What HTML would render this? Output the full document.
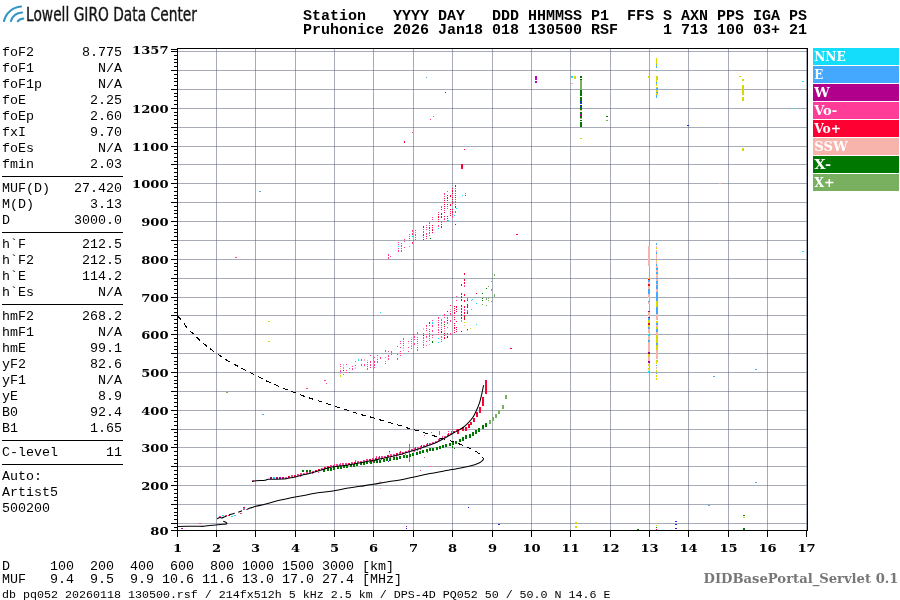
<!DOCTYPE html>
<html><head><meta charset="utf-8"><title>Ionogram</title>
<style>
html,body{margin:0;padding:0;background:#fff;width:900px;height:600px;overflow:hidden}
svg{display:block}
text{white-space:pre}
</style></head><body>
<svg width="900" height="600" viewBox="0 0 900 600" style="position:absolute;left:0;top:0">
<g shape-rendering="crispEdges">
<rect width="900" height="600" fill="#fff"/>
<g fill="#505870" fill-opacity="0.5"><rect x="216" y="49" width="1" height="481"/><rect x="255" y="49" width="1" height="481"/><rect x="295" y="49" width="1" height="481"/><rect x="334" y="49" width="1" height="481"/><rect x="373" y="49" width="1" height="481"/><rect x="413" y="49" width="1" height="481"/><rect x="452" y="49" width="1" height="481"/><rect x="492" y="49" width="1" height="481"/><rect x="531" y="49" width="1" height="481"/><rect x="570" y="49" width="1" height="481"/><rect x="610" y="49" width="1" height="481"/><rect x="649" y="49" width="1" height="481"/><rect x="688" y="49" width="1" height="481"/><rect x="728" y="49" width="1" height="481"/><rect x="767" y="49" width="1" height="481"/><rect x="806" y="49" width="1" height="481"/><rect x="178" y="523" width="629" height="1"/><rect x="178" y="504" width="629" height="1"/><rect x="178" y="485" width="629" height="1"/><rect x="178" y="466" width="629" height="1"/><rect x="178" y="447" width="629" height="1"/><rect x="178" y="429" width="629" height="1"/><rect x="178" y="410" width="629" height="1"/><rect x="178" y="391" width="629" height="1"/><rect x="178" y="372" width="629" height="1"/><rect x="178" y="353" width="629" height="1"/><rect x="178" y="334" width="629" height="1"/><rect x="178" y="315" width="629" height="1"/><rect x="178" y="297" width="629" height="1"/><rect x="178" y="278" width="629" height="1"/><rect x="178" y="259" width="629" height="1"/><rect x="178" y="240" width="629" height="1"/><rect x="178" y="221" width="629" height="1"/><rect x="178" y="202" width="629" height="1"/><rect x="178" y="183" width="629" height="1"/><rect x="178" y="164" width="629" height="1"/><rect x="178" y="146" width="629" height="1"/><rect x="178" y="127" width="629" height="1"/><rect x="178" y="108" width="629" height="1"/><rect x="178" y="89" width="629" height="1"/><rect x="178" y="70" width="629" height="1"/><rect x="178" y="51" width="629" height="1"/></g>
<g shape-rendering="auto"><path fill="#ff3d98" shape-rendering="crispEdges" d="M252 480h2v1h-2zM285 477h2v2h-2zM291 475h2v2h-2zM297 474h2v2h-2zM300 473h2v2h-2zM300 476h1v1h-1zM303 473h2v2h-2zM306 472h2v2h-2zM309 471h2v2h-2zM312 471h2v2h-2zM312 473h1v1h-1zM318 472h1v1h-1zM321 468h2v2h-2zM327 469h1v1h-1zM330 465h2v2h-2zM330 468h1v1h-1zM333 465h2v2h-2zM334 464h1v2h-1zM336 464h2v2h-2zM339 464h2v2h-2zM340 463h1v2h-1zM342 463h2v2h-2zM345 463h2v2h-2zM351 462h2v2h-2zM351 465h1v1h-1zM355 460h1v2h-1zM357 461h2v2h-2zM357 464h1v1h-1zM360 461h2v2h-2zM360 463h1v1h-1zM363 460h2v2h-2zM366 459h2v2h-2zM366 462h1v1h-1zM369 462h1v1h-1zM372 458h2v2h-2zM373 457h1v2h-1zM372 461h1v1h-1zM376 456h1v2h-1zM375 460h1v1h-1zM378 457h2v2h-2zM381 456h2v2h-2zM381 459h1v1h-1zM384 456h2v2h-2zM384 459h1v1h-1zM390 454h2v2h-2zM390 457h1v1h-1zM393 454h2v2h-2zM396 456h1v1h-1zM399 452h2v2h-2zM402 452h2v2h-2zM402 454h1v1h-1zM405 451h2v2h-2zM405 454h1v1h-1zM408 450h2v2h-2zM411 449h2v2h-2zM414 448h2v2h-2zM414 451h1v1h-1zM417 447h2v2h-2zM417 450h1v1h-1zM420 446h2v2h-2zM420 449h1v1h-1zM423 445h2v2h-2zM426 444h2v2h-2zM429 443h2v2h-2zM432 442h2v2h-2zM435 441h2v2h-2zM438 439h2v2h-2zM441 438h2v2h-2zM442 436h1v2h-1zM444 436h2v2h-2zM447 434h2v2h-2zM450 433h2v2h-2zM451 431h1v2h-1zM456 429h2v2h-2zM409 444h1v18h-1zM439 431h1v4h-1zM424 435h1v1h-1zM431 432h1v1h-1zM424 457h1v1h-1zM430 466h1v1h-1zM448 431h1v1h-1zM219 516h2v1h-2zM222 517h2v1h-2zM225 515h2v1h-2zM240 513h2v1h-2zM243 509h2v1h-2zM199 523h2v1h-2zM340 364h1v1h-1zM340 366h1v1h-1zM340 370h1v2h-1zM343 374h1v1h-1zM346 364h1v1h-1zM346 370h1v1h-1zM346 372h1v1h-1zM349 368h1v1h-1zM349 372h1v1h-1zM352 366h1v1h-1zM352 368h1v2h-1zM355 361h1v1h-1zM355 365h1v1h-1zM361 359h1v2h-1zM361 364h1v2h-1zM364 364h1v2h-1zM367 362h1v1h-1zM367 364h1v1h-1zM367 366h1v1h-1zM367 368h1v2h-1zM370 355h1v1h-1zM370 361h1v2h-1zM370 364h1v2h-1zM370 367h1v1h-1zM373 356h1v1h-1zM373 358h1v1h-1zM373 360h1v1h-1zM373 366h1v1h-1zM373 368h1v1h-1zM374 357h1v1h-1zM374 361h1v2h-1zM374 364h1v2h-1zM374 367h1v1h-1zM377 355h1v1h-1zM377 359h1v1h-1zM377 361h1v2h-1zM380 357h1v2h-1zM385 350h1v2h-1zM385 363h1v1h-1zM388 351h1v1h-1zM388 355h1v2h-1zM388 358h1v2h-1zM391 351h1v2h-1zM391 354h1v1h-1zM397 346h1v1h-1zM397 354h1v1h-1zM397 358h1v2h-1zM400 341h1v1h-1zM400 343h1v1h-1zM400 347h1v1h-1zM400 351h1v1h-1zM400 353h1v1h-1zM400 355h1v1h-1zM403 338h1v2h-1zM403 341h1v1h-1zM403 343h1v1h-1zM403 345h1v1h-1zM408 341h1v1h-1zM408 347h1v1h-1zM408 351h1v1h-1zM411 339h1v1h-1zM411 341h1v1h-1zM411 348h1v1h-1zM414 334h1v1h-1zM414 336h1v2h-1zM414 339h1v1h-1zM414 343h1v2h-1zM417 332h1v2h-1zM417 337h1v1h-1zM417 339h1v1h-1zM417 341h1v1h-1zM417 343h1v1h-1zM417 347h1v1h-1zM417 349h1v2h-1zM423 333h1v1h-1zM423 337h1v2h-1zM423 340h1v1h-1zM423 342h1v1h-1zM423 344h1v2h-1zM423 347h1v1h-1zM426 325h1v2h-1zM426 328h1v1h-1zM426 330h1v1h-1zM426 334h1v1h-1zM426 336h1v2h-1zM426 341h1v1h-1zM426 345h1v1h-1zM429 325h1v1h-1zM429 329h1v1h-1zM429 331h1v1h-1zM429 333h1v1h-1zM429 335h1v2h-1zM429 338h1v1h-1zM429 340h1v1h-1zM432 320h1v1h-1zM432 325h1v2h-1zM432 330h1v2h-1zM432 335h1v1h-1zM432 337h1v1h-1zM438 317h1v2h-1zM438 320h1v1h-1zM438 322h1v1h-1zM438 324h1v2h-1zM438 327h1v1h-1zM438 329h1v2h-1zM438 332h1v1h-1zM438 334h1v1h-1zM441 319h1v2h-1zM441 322h1v2h-1zM441 325h1v1h-1zM441 327h1v1h-1zM441 334h1v1h-1zM441 336h1v2h-1zM441 339h1v1h-1zM441 341h1v1h-1zM444 314h1v2h-1zM444 317h1v1h-1zM444 321h1v2h-1zM444 328h1v1h-1zM447 315h1v1h-1zM447 317h1v2h-1zM447 322h1v2h-1zM447 327h1v1h-1zM447 333h1v2h-1zM450 311h1v1h-1zM450 313h1v2h-1zM450 320h1v2h-1zM450 333h1v2h-1zM454 315h1v1h-1zM454 330h1v1h-1zM456 296h1v1h-1zM456 300h1v1h-1zM388 254h1v2h-1zM388 257h1v2h-1zM398 242h1v1h-1zM398 244h1v1h-1zM398 248h1v1h-1zM398 250h1v2h-1zM401 243h1v1h-1zM401 245h1v2h-1zM401 248h1v1h-1zM401 250h1v2h-1zM404 239h1v1h-1zM404 241h1v1h-1zM404 247h1v1h-1zM409 234h1v1h-1zM409 236h1v1h-1zM409 238h1v1h-1zM409 240h1v1h-1zM412 230h1v2h-1zM412 233h1v2h-1zM412 242h1v2h-1zM415 230h1v1h-1zM415 234h1v2h-1zM415 237h1v1h-1zM415 239h1v1h-1zM423 229h1v1h-1zM423 231h1v2h-1zM423 237h1v1h-1zM426 225h1v1h-1zM426 227h1v1h-1zM426 229h1v1h-1zM426 233h1v2h-1zM426 238h1v1h-1zM429 222h1v2h-1zM429 225h1v1h-1zM429 230h1v1h-1zM429 232h1v2h-1zM429 235h1v1h-1zM432 217h1v1h-1zM432 219h1v1h-1zM438 212h1v1h-1zM438 225h1v2h-1zM438 228h1v1h-1zM441 206h1v2h-1zM441 221h1v2h-1zM444 193h1v2h-1zM444 196h1v1h-1zM444 210h1v1h-1zM444 218h1v2h-1zM444 221h1v1h-1zM447 191h1v1h-1zM447 206h1v1h-1zM447 208h1v1h-1zM447 220h1v1h-1zM450 211h1v1h-1zM452 195h1v1h-1zM452 216h1v2h-1zM455 188h1v1h-1zM455 190h1v2h-1zM455 193h1v1h-1zM455 199h1v1h-1zM455 201h1v2h-1zM455 204h1v1h-1zM455 211h1v2h-1zM464 285h1v2h-1zM464 309h1v2h-1zM467 298h1v2h-1zM467 310h1v2h-1zM433 116h1v1h-1zM430 119h1v1h-1zM412 132h1v1h-1zM235 257h2v1h-2zM306 388h2v1h-2zM324 380h2v1h-2zM326 383h1v1h-1zM390 256h1v1h-1zM420 470h1v1h-1zM427 452h1v1h-1z"/>
<path fill="#b0008c" shape-rendering="crispEdges" d="M270 477h2v2h-2zM276 477h2v2h-2zM279 477h2v2h-2zM282 477h2v2h-2zM467 300h1v1h-1zM580 114h2v2h-2zM656 84h1v1h-1zM648 311h2v2h-2zM648 317h2v1h-2zM648 352h2v2h-2zM648 361h2v2h-2z"/>
<path fill="#13ddfb" shape-rendering="crispEdges" d="M273 477h2v2h-2zM485 388h2v1h-2zM485 393h2v1h-2zM482 405h2v1h-2zM468 426h2v1h-2zM222 515h2v1h-2zM231 516h2v1h-2zM234 515h2v1h-2zM343 367h1v2h-1zM358 359h1v2h-1zM385 357h1v1h-1zM385 361h1v1h-1zM411 343h1v1h-1zM411 345h1v2h-1zM432 322h1v2h-1zM438 338h1v1h-1zM438 342h1v1h-1zM398 246h1v1h-1zM409 246h1v1h-1zM412 236h1v1h-1zM415 232h1v1h-1zM438 228h1v1h-1zM448 220h1v1h-1zM454 215h1v1h-1zM456 208h1v1h-1zM462 195h1v1h-1zM465 193h1v1h-1zM471 300h1v1h-1zM472 299h1v1h-1zM476 303h1v1h-1zM471 309h1v1h-1zM476 324h1v1h-1zM461 320h1v1h-1zM461 321h1v1h-1zM648 334h2v2h-2zM648 371h2v2h-2zM571 76h2v2h-2zM802 81h2v1h-2zM793 108h2v1h-2zM802 251h2v1h-2zM380 312h1v1h-1z"/>
<path fill="#ff0033" shape-rendering="crispEdges" d="M288 476h2v2h-2zM294 475h2v2h-2zM315 470h2v2h-2zM318 469h2v2h-2zM324 467h2v2h-2zM327 466h2v2h-2zM348 463h2v2h-2zM354 462h2v2h-2zM369 459h2v2h-2zM375 458h2v2h-2zM379 456h1v2h-1zM387 455h2v2h-2zM396 453h2v2h-2zM400 451h1v2h-1zM415 447h1v2h-1zM421 445h1v2h-1zM427 443h1v2h-1zM439 438h1v2h-1zM448 433h1v2h-1zM453 431h2v2h-2zM485 380h2v14h-2zM482 397h2v9h-2zM479 407h2v6h-2zM476 412h2v5h-2zM473 418h2v4h-2zM470 422h2v3h-2zM468 424h2v4h-2zM465 427h2v4h-2zM462 427h2v4h-2zM457 429h2v5h-2zM228 515h2v1h-2zM243 507h2v1h-2zM441 329h1v1h-1zM444 326h1v1h-1zM444 333h1v1h-1zM444 335h1v1h-1zM444 337h1v2h-1zM450 305h1v1h-1zM454 306h1v1h-1zM454 308h1v1h-1zM454 310h1v1h-1zM454 312h1v2h-1zM454 317h1v1h-1zM454 319h1v1h-1zM454 323h1v1h-1zM454 325h1v1h-1zM454 327h1v2h-1zM454 332h1v1h-1zM456 306h1v2h-1zM456 309h1v1h-1zM456 311h1v1h-1zM456 321h1v1h-1zM456 327h1v1h-1zM456 329h1v1h-1zM456 331h1v1h-1zM423 226h1v2h-1zM423 234h1v2h-1zM423 239h1v1h-1zM426 236h1v1h-1zM429 227h1v2h-1zM432 225h1v1h-1zM432 227h1v1h-1zM432 229h1v2h-1zM432 232h1v1h-1zM438 214h1v1h-1zM438 216h1v2h-1zM438 219h1v1h-1zM438 221h1v1h-1zM441 209h1v1h-1zM441 213h1v2h-1zM441 216h1v2h-1zM441 224h1v1h-1zM441 226h1v2h-1zM444 198h1v1h-1zM444 200h1v1h-1zM444 202h1v1h-1zM444 204h1v1h-1zM444 206h1v1h-1zM444 208h1v1h-1zM444 212h1v1h-1zM444 216h1v1h-1zM447 195h1v1h-1zM447 197h1v2h-1zM447 200h1v1h-1zM447 204h1v1h-1zM447 216h1v1h-1zM447 218h1v1h-1zM450 195h1v2h-1zM450 204h1v2h-1zM450 209h1v1h-1zM450 213h1v1h-1zM450 215h1v1h-1zM452 188h1v1h-1zM452 190h1v2h-1zM452 193h1v1h-1zM452 197h1v1h-1zM452 199h1v1h-1zM452 201h1v1h-1zM452 203h1v1h-1zM452 209h1v1h-1zM452 211h1v2h-1zM452 214h1v1h-1zM455 185h1v2h-1zM455 195h1v1h-1zM455 197h1v1h-1zM455 206h1v2h-1zM461 164h2v5h-2zM465 195h1v1h-1zM461 284h1v2h-1zM461 293h1v2h-1zM461 296h1v2h-1zM461 299h1v2h-1zM461 305h1v2h-1zM461 308h1v2h-1zM461 311h1v2h-1zM461 314h1v2h-1zM461 317h1v2h-1zM464 273h1v2h-1zM464 279h1v2h-1zM464 282h1v2h-1zM464 294h1v2h-1zM464 300h1v2h-1zM464 306h1v2h-1zM464 312h1v2h-1zM464 315h1v2h-1zM464 318h1v2h-1zM467 304h1v2h-1zM467 306h1v2h-1zM467 312h1v2h-1zM476 293h1v1h-1zM648 279h2v1h-2zM648 284h2v2h-2zM648 323h2v2h-2zM445 92h1v1h-1zM404 141h1v2h-1zM464 149h1v1h-1zM516 234h2v1h-2zM510 348h2v1h-2zM656 529h1v1h-1z"/>
<path fill="#d8d800" shape-rendering="crispEdges" d="M389 452h1v2h-1zM340 375h1v2h-1zM367 360h1v1h-1zM417 345h1v1h-1zM429 344h1v1h-1zM464 322h1v1h-1zM467 330h1v1h-1zM470 328h1v1h-1zM656 58h1v6h-1zM656 65h1v2h-1zM656 76h2v4h-2zM656 80h1v2h-1zM656 84h1v2h-1zM656 87h2v1h-2zM656 90h2v2h-2zM656 93h2v2h-2zM656 248h1v1h-1zM656 260h1v1h-1zM656 301h2v6h-2zM656 321h2v2h-2zM656 327h2v2h-2zM656 335h2v8h-2zM656 344h2v6h-2zM656 360h2v2h-2zM656 362h1v2h-1zM656 370h1v2h-1zM656 375h1v2h-1zM656 378h1v2h-1zM648 278h2v1h-2zM648 320h2v3h-2zM648 325h2v2h-2zM648 354h2v3h-2zM648 364h2v2h-2zM648 368h2v2h-2zM742 79h2v2h-2zM742 85h2v10h-2zM742 97h2v4h-2zM742 148h2v3h-2zM574 76h2v3h-2zM580 138h2v1h-2zM648 76h2v2h-2zM739 76h2v1h-2zM268 321h2v1h-2zM268 341h2v1h-2zM575 522h2v2h-2zM575 526h2v2h-2zM656 525h1v1h-1zM743 517h2v1h-2z"/>
<path fill="#2020ff" shape-rendering="crispEdges" d="M389 451h1v1h-1zM388 461h1v1h-1zM423 335h1v1h-1zM447 320h1v1h-1zM447 336h1v2h-1zM580 101h2v1h-2zM580 103h2v1h-2zM580 106h2v1h-2zM687 125h2v1h-2zM498 524h2v1h-2zM675 521h2v1h-2zM675 524h2v1h-2zM675 528h2v1h-2zM406 528h1v1h-1zM468 507h1v1h-1z"/>
<path fill="#007700" shape-rendering="crispEdges" d="M323 469h2v3h-2zM327 468h2v3h-2zM330 468h2v3h-2zM333 467h2v3h-2zM337 466h2v3h-2zM340 466h2v3h-2zM343 465h2v3h-2zM346 465h2v3h-2zM350 464h2v3h-2zM353 464h2v3h-2zM356 463h2v3h-2zM360 462h2v3h-2zM363 462h2v3h-2zM366 461h2v3h-2zM370 461h2v3h-2zM373 460h2v3h-2zM376 460h2v3h-2zM379 460h2v3h-2zM383 459h2v3h-2zM386 458h2v3h-2zM389 458h2v3h-2zM393 457h2v3h-2zM396 457h2v3h-2zM399 456h2v3h-2zM403 455h2v3h-2zM406 455h2v3h-2zM409 454h2v3h-2zM412 453h2v3h-2zM416 452h2v3h-2zM419 451h2v3h-2zM422 450h2v3h-2zM426 449h2v3h-2zM429 448h2v3h-2zM432 448h2v3h-2zM436 447h2v3h-2zM439 446h2v3h-2zM442 445h2v3h-2zM445 444h2v3h-2zM449 443h2v3h-2zM452 442h2v3h-2zM455 441h2v3h-2zM459 439h2v3h-2zM462 437h2v4h-2zM465 435h2v4h-2zM469 434h2v4h-2zM472 432h2v4h-2zM475 430h2v4h-2zM478 428h2v4h-2zM482 425h2v4h-2zM485 423h2v4h-2zM302 470h2v2h-2zM306 470h2v2h-2zM309 470h2v2h-2zM452 446h1v2h-1zM454 448h1v1h-1zM343 370h1v1h-1zM429 322h1v2h-1zM432 341h1v2h-1zM441 331h1v2h-1zM444 324h1v1h-1zM447 311h1v1h-1zM430 238h1v1h-1zM455 224h1v1h-1zM464 317h1v1h-1zM467 329h1v1h-1zM461 331h1v1h-1zM486 288h1v1h-1zM482 293h1v1h-1zM482 300h1v1h-1zM482 298h1v1h-1zM580 76h2v2h-2zM580 79h2v1h-2zM580 90h2v6h-2zM580 97h2v2h-2zM580 99h2v2h-2zM580 102h2v1h-2zM580 105h2v1h-2zM580 107h2v3h-2zM580 112h2v2h-2zM580 116h2v2h-2zM580 120h2v1h-2zM580 122h2v5h-2zM606 116h2v1h-2zM637 529h2v1h-2zM656 527h1v1h-1zM743 515h2v1h-2zM743 528h2v2h-2z"/>
<path fill="#78b060" shape-rendering="crispEdges" d="M489 420h2v4h-2zM492 417h2v4h-2zM495 414h2v4h-2zM498 410h2v4h-2zM502 405h2v4h-2zM505 395h2v4h-2zM494 274h1v2h-1zM491 278h1v1h-1zM494 278h1v1h-1zM491 281h1v1h-1zM488 286h1v1h-1zM491 289h1v2h-1zM494 294h1v2h-1zM486 298h1v2h-1zM488 300h1v1h-1zM491 301h1v1h-1zM482 304h1v1h-1zM486 305h1v1h-1zM488 298h1v1h-1zM494 296h1v1h-1zM580 80h2v10h-2zM580 118h2v1h-2zM606 120h2v1h-2zM226 392h2v1h-2z"/>
<path fill="#44a8ff" shape-rendering="crispEdges" d="M243 508h2v1h-2zM656 64h1v1h-1zM656 66h1v2h-1zM656 82h1v2h-1zM656 88h2v2h-2zM656 92h2v1h-2zM656 95h1v3h-1zM656 243h1v2h-1zM656 252h1v2h-1zM656 264h1v2h-1zM656 268h2v2h-2zM656 272h2v2h-2zM656 277h2v2h-2zM656 280h2v4h-2zM656 285h2v4h-2zM656 292h2v3h-2zM656 295h2v6h-2zM656 307h2v8h-2zM656 323h2v2h-2zM656 329h2v3h-2zM656 343h2v2h-2zM656 365h1v1h-1zM656 373h1v1h-1zM648 280h2v2h-2zM648 289h2v5h-2zM648 301h2v2h-2zM648 318h2v2h-2zM648 327h2v2h-2zM648 340h2v2h-2zM426 77h1v1h-1zM259 191h2v1h-2zM262 414h2v1h-2zM261 378h2v1h-2zM713 376h2v1h-2zM755 369h2v1h-2zM708 505h2v1h-2zM755 482h2v1h-2z"/>
<path fill="#c000c0" shape-rendering="crispEdges" d="M181 528h2v1h-2zM535 76h2v2h-2zM535 78h2v2h-2zM535 81h2v2h-2zM406 526h1v1h-1z"/>
<path fill="#f7b4ac" shape-rendering="crispEdges" d="M340 368h1v1h-1zM340 373h1v1h-1zM343 364h1v2h-1zM355 367h1v2h-1zM364 359h1v2h-1zM377 357h1v1h-1zM403 347h1v2h-1zM403 350h1v1h-1zM408 343h1v1h-1zM411 337h1v1h-1zM423 328h1v2h-1zM441 315h1v1h-1zM444 330h1v2h-1zM450 309h1v1h-1zM464 325h1v1h-1zM580 110h2v1h-2zM656 246h1v2h-1zM656 250h1v2h-1zM656 254h1v5h-1zM656 261h1v3h-1zM656 266h2v2h-2zM656 270h2v2h-2zM656 274h2v4h-2zM656 279h2v2h-2zM656 284h2v1h-2zM656 289h2v3h-2zM656 314h2v6h-2zM656 325h2v2h-2zM656 332h2v3h-2zM656 350h2v9h-2zM656 367h1v2h-1zM648 246h2v20h-2zM648 282h2v2h-2zM648 286h2v3h-2zM648 294h2v4h-2zM648 302h2v2h-2zM648 312h2v4h-2zM648 329h2v4h-2zM648 336h2v4h-2zM648 342h2v2h-2zM648 344h2v8h-2zM648 357h2v4h-2zM571 83h2v1h-2zM719 183h2v1h-2zM380 481h1v1h-1zM380 488h1v1h-1z"/>
<g fill="none" stroke="#000" stroke-width="1.05" stroke-linejoin="round" stroke-linecap="butt">
<path d="M178.00,526.40 C181.00,526.38 191.67,526.32 196.00,526.30 C200.33,526.28 201.78,526.45 204.00,526.30 C206.22,526.15 207.30,525.62 209.30,525.40 C211.30,525.18 213.77,525.18 216.00,525.00 C218.23,524.82 220.98,524.47 222.70,524.30 C224.42,524.13 225.62,524.17 226.30,524.00 C226.98,523.83 226.97,523.63 226.80,523.30 C226.63,522.97 225.88,522.33 225.30,522.00 C224.72,521.67 223.63,521.42 223.30,521.30"/>
<path d="M217.00,518.70 C217.50,518.50 219.17,517.62 220.00,517.50 C220.83,517.38 221.33,518.08 222.00,518.00 C222.67,517.92 223.22,517.33 224.00,517.00 C224.78,516.67 226.25,516.17 226.70,516.00"/>
<path d="M229.00,514.70 C229.72,514.53 232.38,513.98 233.30,513.70 C234.22,513.42 234.30,513.12 234.50,513.00"/>
<path d="M238.30,512.30 L242.00,510.70"/>
<path d="M246.50,509.60 C246.97,509.38 248.27,508.68 249.30,508.30 C250.33,507.92 251.58,507.63 252.70,507.30 C253.82,506.97 253.67,506.88 256.00,506.30 C258.33,505.72 263.43,504.65 266.70,503.80 C269.97,502.95 272.65,501.95 275.60,501.20 C278.55,500.45 281.15,499.98 284.40,499.30 C287.65,498.62 291.38,497.83 295.10,497.10 C298.82,496.37 302.55,495.65 306.70,494.90 C310.85,494.15 315.42,493.30 320.00,492.60 C324.58,491.90 329.75,491.42 334.20,490.70 C338.65,489.98 342.40,489.03 346.70,488.30 C351.00,487.57 355.57,486.97 360.00,486.30 C364.43,485.63 368.85,485.03 373.30,484.30 C377.75,483.57 382.25,482.62 386.70,481.90 C391.15,481.18 395.62,480.77 400.00,480.00 C404.38,479.23 408.00,478.37 413.00,477.30 C418.00,476.23 423.50,474.90 430.00,473.60 C436.50,472.30 445.33,470.77 452.00,469.50 C458.67,468.23 465.50,467.08 470.00,466.00 C474.50,464.92 476.90,463.95 479.00,463.00 C481.10,462.05 481.85,460.97 482.60,460.30 C483.35,459.63 483.35,459.22 483.50,459.00"/>
<path d="M252.00,481.60 C252.67,481.47 253.83,481.02 256.00,480.80 C258.17,480.58 262.93,480.55 265.00,480.30 C267.07,480.05 265.40,479.50 268.40,479.30 C271.40,479.10 279.85,479.25 283.00,479.10 C286.15,478.95 285.25,478.75 287.30,478.40 C289.35,478.05 292.63,477.60 295.30,477.00 C297.97,476.40 300.48,475.50 303.30,474.80 C306.12,474.10 309.23,473.58 312.20,472.80 C315.17,472.02 318.13,471.00 321.10,470.10 C324.07,469.20 325.55,468.27 330.00,467.40 C334.45,466.53 341.87,465.83 347.80,464.90 C353.73,463.97 359.68,462.92 365.60,461.80 C371.52,460.68 377.38,459.47 383.30,458.20 C389.22,456.93 396.37,455.38 401.10,454.20 C405.83,453.02 408.08,452.22 411.70,451.10 C415.32,449.98 419.10,448.75 422.80,447.50 C426.50,446.25 430.57,445.00 433.90,443.60 C437.23,442.20 439.62,440.83 442.80,439.10 C445.98,437.37 449.82,435.00 453.00,433.20 C456.18,431.40 459.53,429.85 461.90,428.30 C464.27,426.75 465.42,425.67 467.20,423.90 C468.98,422.13 471.17,419.72 472.60,417.70 C474.03,415.68 474.65,414.28 475.80,411.80 C476.95,409.32 478.50,405.80 479.50,402.80 C480.50,399.80 481.12,396.75 481.80,393.80 C482.48,390.85 483.30,386.55 483.60,385.10"/>
<path d="M178.00,316.30 C178.78,317.22 181.15,319.83 182.70,321.80 C184.25,323.77 185.47,326.02 187.30,328.10 C189.13,330.18 191.67,332.33 193.70,334.30 C195.73,336.27 197.48,338.07 199.50,339.90 C201.52,341.73 203.68,343.57 205.80,345.30 C207.92,347.03 209.95,348.65 212.20,350.30 C214.45,351.95 217.08,353.67 219.30,355.20 C221.52,356.73 222.88,357.92 225.50,359.50 C228.12,361.08 232.08,363.12 235.00,364.70 C237.92,366.28 240.33,367.62 243.00,369.00 C245.67,370.38 248.12,371.55 251.00,373.00 C253.88,374.45 257.80,376.42 260.30,377.70 C262.80,378.98 263.72,379.62 266.00,380.70 C268.28,381.78 271.33,383.02 274.00,384.20 C276.67,385.38 279.12,386.62 282.00,387.80 C284.88,388.98 288.42,390.20 291.30,391.30 C294.18,392.40 296.63,393.40 299.30,394.40 C301.97,395.40 304.40,396.32 307.30,397.30 C310.20,398.28 313.58,399.30 316.70,400.30 C319.82,401.30 322.90,402.28 326.00,403.30 C329.10,404.32 332.42,405.45 335.30,406.40 C338.18,407.35 340.40,408.10 343.30,409.00 C346.20,409.90 349.65,410.83 352.70,411.80 C355.75,412.77 358.62,413.93 361.60,414.80 C364.58,415.67 367.57,416.17 370.60,417.00 C373.63,417.83 376.77,418.92 379.80,419.80 C382.83,420.68 385.72,421.43 388.80,422.30 C391.88,423.17 395.18,424.05 398.30,425.00 C401.42,425.95 404.50,427.12 407.50,428.00 C410.50,428.88 413.38,429.47 416.30,430.30 C419.22,431.13 422.00,432.07 425.00,433.00 C428.00,433.93 431.42,434.97 434.30,435.90 C437.18,436.83 439.18,437.63 442.30,438.60 C445.42,439.57 449.72,440.63 453.00,441.70 C456.28,442.77 459.17,443.87 462.00,445.00 C464.83,446.13 467.67,447.42 470.00,448.50 C472.33,449.58 474.33,450.50 476.00,451.50 C477.67,452.50 478.95,453.62 480.00,454.50 C481.05,455.38 481.72,456.05 482.30,456.80 C482.88,457.55 483.30,458.63 483.50,459.00" stroke-dasharray="5 4.2" shape-rendering="crispEdges"/>
</g></g>
<g fill="#000"><rect x="177" y="48" width="631" height="1"/><rect x="177" y="530" width="631" height="1"/><rect x="177" y="48" width="1" height="489"/><rect x="807" y="48" width="1" height="483"/><rect x="174" y="527" width="3" height="1"/><rect x="171" y="523" width="6" height="1"/><rect x="174" y="519" width="3" height="1"/><rect x="174" y="515" width="3" height="1"/><rect x="174" y="512" width="3" height="1"/><rect x="174" y="508" width="3" height="1"/><rect x="171" y="504" width="6" height="1"/><rect x="174" y="500" width="3" height="1"/><rect x="174" y="497" width="3" height="1"/><rect x="174" y="493" width="3" height="1"/><rect x="174" y="489" width="3" height="1"/><rect x="171" y="485" width="6" height="1"/><rect x="174" y="481" width="3" height="1"/><rect x="174" y="478" width="3" height="1"/><rect x="174" y="474" width="3" height="1"/><rect x="174" y="470" width="3" height="1"/><rect x="171" y="466" width="6" height="1"/><rect x="174" y="463" width="3" height="1"/><rect x="174" y="459" width="3" height="1"/><rect x="174" y="455" width="3" height="1"/><rect x="174" y="451" width="3" height="1"/><rect x="171" y="447" width="6" height="1"/><rect x="174" y="444" width="3" height="1"/><rect x="174" y="440" width="3" height="1"/><rect x="174" y="436" width="3" height="1"/><rect x="174" y="432" width="3" height="1"/><rect x="171" y="429" width="6" height="1"/><rect x="174" y="425" width="3" height="1"/><rect x="174" y="421" width="3" height="1"/><rect x="174" y="417" width="3" height="1"/><rect x="174" y="414" width="3" height="1"/><rect x="171" y="410" width="6" height="1"/><rect x="174" y="406" width="3" height="1"/><rect x="174" y="402" width="3" height="1"/><rect x="174" y="398" width="3" height="1"/><rect x="174" y="395" width="3" height="1"/><rect x="171" y="391" width="6" height="1"/><rect x="174" y="387" width="3" height="1"/><rect x="174" y="383" width="3" height="1"/><rect x="174" y="380" width="3" height="1"/><rect x="174" y="376" width="3" height="1"/><rect x="171" y="372" width="6" height="1"/><rect x="174" y="368" width="3" height="1"/><rect x="174" y="364" width="3" height="1"/><rect x="174" y="361" width="3" height="1"/><rect x="174" y="357" width="3" height="1"/><rect x="171" y="353" width="6" height="1"/><rect x="174" y="349" width="3" height="1"/><rect x="174" y="346" width="3" height="1"/><rect x="174" y="342" width="3" height="1"/><rect x="174" y="338" width="3" height="1"/><rect x="171" y="334" width="6" height="1"/><rect x="174" y="330" width="3" height="1"/><rect x="174" y="327" width="3" height="1"/><rect x="174" y="323" width="3" height="1"/><rect x="174" y="319" width="3" height="1"/><rect x="171" y="315" width="6" height="1"/><rect x="174" y="312" width="3" height="1"/><rect x="174" y="308" width="3" height="1"/><rect x="174" y="304" width="3" height="1"/><rect x="174" y="300" width="3" height="1"/><rect x="171" y="297" width="6" height="1"/><rect x="174" y="293" width="3" height="1"/><rect x="174" y="289" width="3" height="1"/><rect x="174" y="285" width="3" height="1"/><rect x="174" y="281" width="3" height="1"/><rect x="171" y="278" width="6" height="1"/><rect x="174" y="274" width="3" height="1"/><rect x="174" y="270" width="3" height="1"/><rect x="174" y="266" width="3" height="1"/><rect x="174" y="263" width="3" height="1"/><rect x="171" y="259" width="6" height="1"/><rect x="174" y="255" width="3" height="1"/><rect x="174" y="251" width="3" height="1"/><rect x="174" y="247" width="3" height="1"/><rect x="174" y="244" width="3" height="1"/><rect x="171" y="240" width="6" height="1"/><rect x="174" y="236" width="3" height="1"/><rect x="174" y="232" width="3" height="1"/><rect x="174" y="229" width="3" height="1"/><rect x="174" y="225" width="3" height="1"/><rect x="171" y="221" width="6" height="1"/><rect x="174" y="217" width="3" height="1"/><rect x="174" y="213" width="3" height="1"/><rect x="174" y="210" width="3" height="1"/><rect x="174" y="206" width="3" height="1"/><rect x="171" y="202" width="6" height="1"/><rect x="174" y="198" width="3" height="1"/><rect x="174" y="195" width="3" height="1"/><rect x="174" y="191" width="3" height="1"/><rect x="174" y="187" width="3" height="1"/><rect x="171" y="183" width="6" height="1"/><rect x="174" y="179" width="3" height="1"/><rect x="174" y="176" width="3" height="1"/><rect x="174" y="172" width="3" height="1"/><rect x="174" y="168" width="3" height="1"/><rect x="171" y="164" width="6" height="1"/><rect x="174" y="161" width="3" height="1"/><rect x="174" y="157" width="3" height="1"/><rect x="174" y="153" width="3" height="1"/><rect x="174" y="149" width="3" height="1"/><rect x="171" y="146" width="6" height="1"/><rect x="174" y="142" width="3" height="1"/><rect x="174" y="138" width="3" height="1"/><rect x="174" y="134" width="3" height="1"/><rect x="174" y="130" width="3" height="1"/><rect x="171" y="127" width="6" height="1"/><rect x="174" y="123" width="3" height="1"/><rect x="174" y="119" width="3" height="1"/><rect x="174" y="115" width="3" height="1"/><rect x="174" y="112" width="3" height="1"/><rect x="171" y="108" width="6" height="1"/><rect x="174" y="104" width="3" height="1"/><rect x="174" y="100" width="3" height="1"/><rect x="174" y="96" width="3" height="1"/><rect x="174" y="93" width="3" height="1"/><rect x="171" y="89" width="6" height="1"/><rect x="174" y="85" width="3" height="1"/><rect x="174" y="81" width="3" height="1"/><rect x="174" y="78" width="3" height="1"/><rect x="174" y="74" width="3" height="1"/><rect x="171" y="70" width="6" height="1"/><rect x="174" y="66" width="3" height="1"/><rect x="174" y="62" width="3" height="1"/><rect x="174" y="59" width="3" height="1"/><rect x="174" y="55" width="3" height="1"/><rect x="171" y="51" width="6" height="1"/><rect x="171" y="49" width="6" height="1"/><rect x="171" y="530" width="6" height="1"/><rect x="216" y="531" width="1" height="6"/><rect x="255" y="531" width="1" height="6"/><rect x="295" y="531" width="1" height="6"/><rect x="334" y="531" width="1" height="6"/><rect x="373" y="531" width="1" height="6"/><rect x="413" y="531" width="1" height="6"/><rect x="452" y="531" width="1" height="6"/><rect x="492" y="531" width="1" height="6"/><rect x="531" y="531" width="1" height="6"/><rect x="570" y="531" width="1" height="6"/><rect x="610" y="531" width="1" height="6"/><rect x="649" y="531" width="1" height="6"/><rect x="688" y="531" width="1" height="6"/><rect x="728" y="531" width="1" height="6"/><rect x="767" y="531" width="1" height="6"/><rect x="806" y="531" width="1" height="6"/></g>
<g font-family="DejaVu Serif, serif" font-weight="bold" font-size="11.8" fill="#000" shape-rendering="auto"><text x="168.5" y="53.7" text-anchor="end" textLength="36.40" lengthAdjust="spacingAndGlyphs">1357</text><text x="168.5" y="113.0" text-anchor="end" textLength="36.40" lengthAdjust="spacingAndGlyphs">1200</text><text x="168.5" y="151.0" text-anchor="end" textLength="36.40" lengthAdjust="spacingAndGlyphs">1100</text><text x="168.5" y="188.0" text-anchor="end" textLength="36.40" lengthAdjust="spacingAndGlyphs">1000</text><text x="168.5" y="226.0" text-anchor="end" textLength="27.30" lengthAdjust="spacingAndGlyphs">900</text><text x="168.5" y="264.0" text-anchor="end" textLength="27.30" lengthAdjust="spacingAndGlyphs">800</text><text x="168.5" y="302.0" text-anchor="end" textLength="27.30" lengthAdjust="spacingAndGlyphs">700</text><text x="168.5" y="339.0" text-anchor="end" textLength="27.30" lengthAdjust="spacingAndGlyphs">600</text><text x="168.5" y="377.0" text-anchor="end" textLength="27.30" lengthAdjust="spacingAndGlyphs">500</text><text x="168.5" y="415.0" text-anchor="end" textLength="27.30" lengthAdjust="spacingAndGlyphs">400</text><text x="168.5" y="452.0" text-anchor="end" textLength="27.30" lengthAdjust="spacingAndGlyphs">300</text><text x="168.5" y="490.0" text-anchor="end" textLength="27.30" lengthAdjust="spacingAndGlyphs">200</text><text x="168.5" y="535.0" text-anchor="end" textLength="18.20" lengthAdjust="spacingAndGlyphs">80</text><text x="177.6" y="552.3" text-anchor="middle" textLength="9.10" lengthAdjust="spacingAndGlyphs">1</text><text x="216.6" y="552.3" text-anchor="middle" textLength="9.10" lengthAdjust="spacingAndGlyphs">2</text><text x="255.6" y="552.3" text-anchor="middle" textLength="9.10" lengthAdjust="spacingAndGlyphs">3</text><text x="295.6" y="552.3" text-anchor="middle" textLength="9.10" lengthAdjust="spacingAndGlyphs">4</text><text x="334.6" y="552.3" text-anchor="middle" textLength="9.10" lengthAdjust="spacingAndGlyphs">5</text><text x="373.6" y="552.3" text-anchor="middle" textLength="9.10" lengthAdjust="spacingAndGlyphs">6</text><text x="413.6" y="552.3" text-anchor="middle" textLength="9.10" lengthAdjust="spacingAndGlyphs">7</text><text x="452.6" y="552.3" text-anchor="middle" textLength="9.10" lengthAdjust="spacingAndGlyphs">8</text><text x="492.6" y="552.3" text-anchor="middle" textLength="9.10" lengthAdjust="spacingAndGlyphs">9</text><text x="531.6" y="552.3" text-anchor="middle" textLength="18.20" lengthAdjust="spacingAndGlyphs">10</text><text x="570.6" y="552.3" text-anchor="middle" textLength="18.20" lengthAdjust="spacingAndGlyphs">11</text><text x="610.6" y="552.3" text-anchor="middle" textLength="18.20" lengthAdjust="spacingAndGlyphs">12</text><text x="649.6" y="552.3" text-anchor="middle" textLength="18.20" lengthAdjust="spacingAndGlyphs">13</text><text x="688.6" y="552.3" text-anchor="middle" textLength="18.20" lengthAdjust="spacingAndGlyphs">14</text><text x="728.6" y="552.3" text-anchor="middle" textLength="18.20" lengthAdjust="spacingAndGlyphs">15</text><text x="767.6" y="552.3" text-anchor="middle" textLength="18.20" lengthAdjust="spacingAndGlyphs">16</text><text x="806.6" y="552.3" text-anchor="middle" textLength="18.20" lengthAdjust="spacingAndGlyphs">17</text></g>
</g>
<g fill="none" stroke="#3797c6" stroke-width="2.2" stroke-linecap="round">
<path d="M4,21 A19,19 0 0 1 21,6.5"/>
<path d="M10.9,21 A12.5,12.5 0 0 1 22,12.5"/>
<path d="M17.8,21.2 A7.5,7.5 0 0 1 23.2,18.7"/>
</g>
<text x="26" y="21" font-family="DejaVu Sans Condensed, DejaVu Sans, sans-serif" font-size="19" fill="#141414" stroke="#141414" stroke-width="0.35" textLength="171" lengthAdjust="spacingAndGlyphs">Lowell GIRO Data Center</text>
<g font-family="Liberation Mono, monospace" font-weight="bold" font-size="15" fill="#000">
<text x="303" y="19.5">Station   YYYY DAY   DDD HHMMSS P1  FFS S AXN PPS IGA PS</text>
<text x="303" y="33.5">Pruhonice 2026 Jan18 018 130500 RSF     1 713 100 03+ 21</text>
</g>
<g font-family="Liberation Mono, monospace" font-size="13.33" fill="#000">
<text x="2" y="56">foF2</text><text x="122" y="56" text-anchor="end">8.775</text><text x="2" y="72">foF1</text><text x="122" y="72" text-anchor="end">N/A</text><text x="2" y="88">foF1p</text><text x="122" y="88" text-anchor="end">N/A</text><text x="2" y="104">foE</text><text x="122" y="104" text-anchor="end">2.25</text><text x="2" y="120">foEp</text><text x="122" y="120" text-anchor="end">2.60</text><text x="2" y="136">fxI</text><text x="122" y="136" text-anchor="end">9.70</text><text x="2" y="152">foEs</text><text x="122" y="152" text-anchor="end">N/A</text><text x="2" y="168">fmin</text><text x="122" y="168" text-anchor="end">2.03</text><text x="2" y="192">MUF(D)</text><text x="122" y="192" text-anchor="end">27.420</text><text x="2" y="208">M(D)</text><text x="122" y="208" text-anchor="end">3.13</text><text x="2" y="224">D</text><text x="122" y="224" text-anchor="end">3000.0</text><text x="2" y="248">h`F</text><text x="122" y="248" text-anchor="end">212.5</text><text x="2" y="264">h`F2</text><text x="122" y="264" text-anchor="end">212.5</text><text x="2" y="280">h`E</text><text x="122" y="280" text-anchor="end">114.2</text><text x="2" y="296">h`Es</text><text x="122" y="296" text-anchor="end">N/A</text><text x="2" y="320">hmF2</text><text x="122" y="320" text-anchor="end">268.2</text><text x="2" y="336">hmF1</text><text x="122" y="336" text-anchor="end">N/A</text><text x="2" y="352">hmE</text><text x="122" y="352" text-anchor="end">99.1</text><text x="2" y="368">yF2</text><text x="122" y="368" text-anchor="end">82.6</text><text x="2" y="384">yF1</text><text x="122" y="384" text-anchor="end">N/A</text><text x="2" y="400">yE</text><text x="122" y="400" text-anchor="end">8.9</text><text x="2" y="416">B0</text><text x="122" y="416" text-anchor="end">92.4</text><text x="2" y="432">B1</text><text x="122" y="432" text-anchor="end">1.65</text><text x="2" y="456">C-level</text><text x="122" y="456" text-anchor="end">11</text><text x="2" y="480">Auto:</text><text x="2" y="496">Artist5</text><text x="2" y="512">500200</text>
</g>
<g fill="#000" shape-rendering="crispEdges"><rect x="2" y="176" width="121" height="1"/><rect x="2" y="232" width="121" height="1"/><rect x="2" y="304" width="121" height="1"/><rect x="2" y="440" width="121" height="1"/><rect x="2" y="464" width="121" height="1"/></g>
<g font-family="DejaVu Serif, serif" font-weight="bold" font-size="12.3"><rect x="813" y="48" width="86" height="17" fill="#13ddfb"/><text x="814.2" y="61.2" fill="#fff" textLength="31.5" lengthAdjust="spacingAndGlyphs">NNE</text><rect x="813" y="66" width="86" height="17" fill="#44a8ff"/><text x="814.2" y="79.2" fill="#fff" textLength="9" lengthAdjust="spacingAndGlyphs">E</text><rect x="813" y="84" width="86" height="17" fill="#b0008c"/><text x="814.2" y="97.2" fill="#fff" textLength="15.5" lengthAdjust="spacingAndGlyphs">W</text><rect x="813" y="102" width="86" height="17" fill="#ff3d98"/><text x="814.2" y="115.2" fill="#fff" textLength="23" lengthAdjust="spacingAndGlyphs">Vo-</text><rect x="813" y="120" width="86" height="17" fill="#ff0033"/><text x="814.2" y="133.2" fill="#fff" textLength="27" lengthAdjust="spacingAndGlyphs">Vo+</text><rect x="813" y="138" width="86" height="17" fill="#f7b4ac"/><text x="814.2" y="151.2" fill="#fff" textLength="33.5" lengthAdjust="spacingAndGlyphs">SSW</text><rect x="813" y="156" width="86" height="17" fill="#007700"/><text x="814.2" y="169.2" fill="#fff" textLength="17" lengthAdjust="spacingAndGlyphs">X-</text><rect x="813" y="174" width="86" height="17" fill="#78b060"/><text x="814.2" y="187.2" fill="#fff" textLength="20.5" lengthAdjust="spacingAndGlyphs">X+</text></g>
<g font-family="Liberation Mono, monospace" font-size="13.33" fill="#000">
<text x="2" y="569.5">D     100  200  400  600  800 1000 1500 3000 [km]</text>
<text x="2" y="582.5">MUF   9.4  9.5  9.9 10.6 11.6 13.0 17.0 27.4 [MHz]</text>
</g>
<text x="2" y="597.5" font-family="Liberation Mono, monospace" font-size="11.67" fill="#000">db pq052 20260118 130500.rsf / 214fx512h 5 kHz 2.5 km / DPS-4D PQ052 50 / 50.0 N 14.6 E</text>
<text x="703.5" y="583" font-family="DejaVu Serif, serif" font-weight="bold" font-size="12" fill="#777" textLength="195" lengthAdjust="spacingAndGlyphs">DIDBasePortal_Servlet 0.1</text>
</svg>
</body></html>
